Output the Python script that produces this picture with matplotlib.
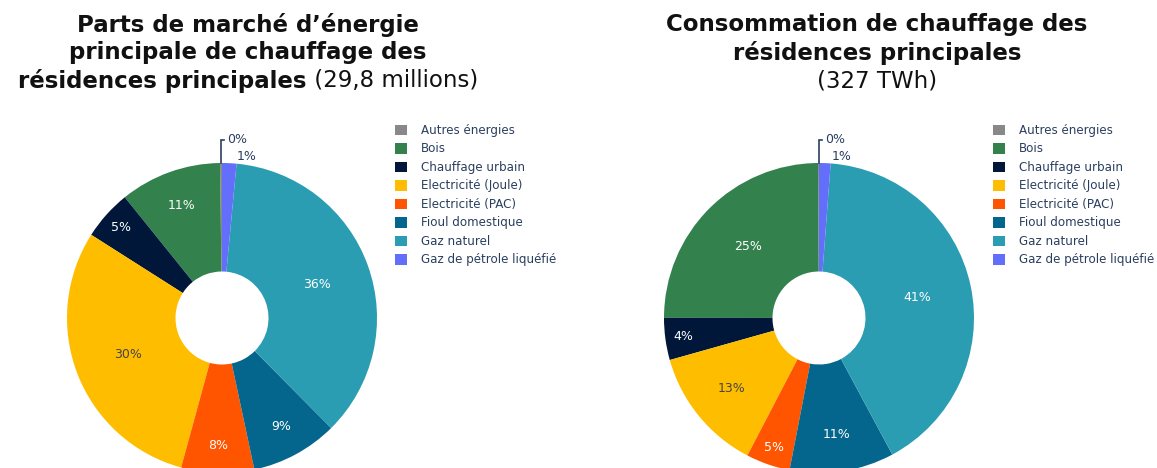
import matplotlib

matplotlib.use("Agg")

import matplotlib.pyplot as plt

W, H = 1157, 468
DPI = 100

ENERGIES = [
    "Autres énergies",
    "Bois",
    "Chauffage urbain",
    "Electricité (Joule)",
    "Electricité (PAC)",
    "Fioul domestique",
    "Gaz naturel",
    "Gaz de pétrole liquéfié",
]
COLORS = ["#888888", "#33824e", "#00173a", "#ffbd00",
          "#ff5500", "#05668d", "#2a9db2", "#636efa"]

# part de marche (29,8 millions de residences) et consommation (327 TWh), en %
PARTS_MARCHE = [0.2, 10.6, 5.2, 29.8, 7.6, 9.1, 36.1, 1.5]
CONSOMMATION = [0.1, 24.9, 4.4, 13.0, 4.6, 10.9, 41.0, 1.2]

TITLE_LEFT_BOLD = ["Parts de marché d’énergie", "principale de chauffage des",
                   "résidences principales"]
TITLE_LEFT_REG = " (29,8 millions)"
TITLE_RIGHT_BOLD = ["Consommation de chauffage des", "résidences principales"]
TITLE_RIGHT_REG = "(327 TWh)"

FONT = "DejaVu Sans"
TEXT_COLOR = "#2a3f5f"
TITLE_SIZE = 16.5
R_PX = 155
HOLE = 0.3

plt.rcParams["font.family"] = FONT


def px_to_fig(x, y):
    return x / W, 1 - y / H


def is_light(hex_color):
    r, g, b = (int(hex_color[i:i + 2], 16) for i in (1, 3, 5))
    return (r * 299 + g * 587 + b * 114) / 1000 >= 128


def draw_donut(fig, values, cx, cy):
    import numpy as np

    ax = fig.add_axes([(cx - R_PX) / W, (H - cy - R_PX) / H, 2 * R_PX / W, 2 * R_PX / H])
    wedges, _ = ax.pie(
        values,
        colors=COLORS,
        startangle=90,
        counterclock=True,
        radius=1,
        wedgeprops=dict(width=1 - HOLE, linewidth=0),
    )
    ax.set_xlim(-1, 1)
    ax.set_ylim(-1, 1)
    ax.axis("off")

    total = float(sum(values))
    for wedge, value, color in zip(wedges, values, COLORS):
        frac = value / total
        mid = np.deg2rad((wedge.theta1 + wedge.theta2) / 2)
        label = f"{round(frac * 100):.0f}%"
        if frac < 0.005:
            # etiquette repoussee au-dessus avec une ligne de rappel
            x0, y0 = np.cos(mid), np.sin(mid)
            ytop = 1.15
            ax.plot([x0, x0, x0 + 0.02], [y0, ytop, ytop], color=TEXT_COLOR,
                    lw=1.2, clip_on=False, solid_joinstyle="miter")
            ax.text(x0 + 0.04, ytop, label, ha="left", va="center",
                    fontsize=9, color=TEXT_COLOR, clip_on=False)
        elif frac < 0.03:
            ax.annotate(label, (np.cos(mid), np.sin(mid)), xytext=(5, 0),
                        textcoords="offset points", ha="left", va="bottom",
                        fontsize=9, color=TEXT_COLOR, annotation_clip=False)
        else:
            r = max(0.65, 0.97 - 1.9 * frac)
            txt_color = "#444444" if is_light(color) else "white"
            ax.text(r * np.cos(mid), r * np.sin(mid), label, ha="center",
                    va="center", fontsize=9, color=txt_color)
    return wedges


def draw_title(fig, bold_lines, regular, cx, inline_regular):
    renderer = fig.canvas.get_renderer()
    y_lines = [25, 53, 81]
    for i, line in enumerate(bold_lines):
        is_last = i == len(bold_lines) - 1
        if is_last and inline_regular:
            tb = fig.text(0, 0, line, fontsize=TITLE_SIZE, fontweight="bold",
                          color="#111111", ha="left", va="center")
            tr = fig.text(0, 0, regular, fontsize=TITLE_SIZE, color="#111111",
                          ha="left", va="center")
            wb = tb.get_window_extent(renderer).width
            wr = tr.get_window_extent(renderer).width
            x_start = cx - (wb + wr) / 2
            tb.set_position(px_to_fig(x_start, y_lines[i]))
            tr.set_position(px_to_fig(x_start + wb, y_lines[i]))
        else:
            fig.text(*px_to_fig(cx, y_lines[i]), line, fontsize=TITLE_SIZE,
                     fontweight="bold", color="#111111", ha="center", va="center")
    if not inline_regular:
        fig.text(*px_to_fig(cx, y_lines[len(bold_lines)]), regular,
                 fontsize=TITLE_SIZE, color="#111111", ha="center", va="center")


def draw_legend(fig, wedges, x, y):
    fig.legend(
        wedges,
        ENERGIES,
        loc="upper left",
        bbox_to_anchor=px_to_fig(x, y),
        frameon=False,
        fontsize=8.6,
        handlelength=1.0,
        handleheight=1.0,
        handletextpad=1.15,
        labelspacing=0.46,
        borderpad=0,
        borderaxespad=0,
        labelcolor=TEXT_COLOR,
    )


def main():
    fig = plt.figure(figsize=(W / DPI, H / DPI), dpi=DPI)
    fig.patch.set_facecolor("white")

    w_left = draw_donut(fig, PARTS_MARCHE, 222, 318)
    w_right = draw_donut(fig, CONSOMMATION, 819, 318)

    draw_title(fig, TITLE_LEFT_BOLD, TITLE_LEFT_REG, 248, True)
    draw_title(fig, TITLE_RIGHT_BOLD, TITLE_RIGHT_REG, 877, False)

    draw_legend(fig, w_left, 395, 124)
    draw_legend(fig, w_right, 993, 124)

    fig.savefig("out.png", dpi=DPI)
    plt.close(fig)


if __name__ == "__main__":
    main()
